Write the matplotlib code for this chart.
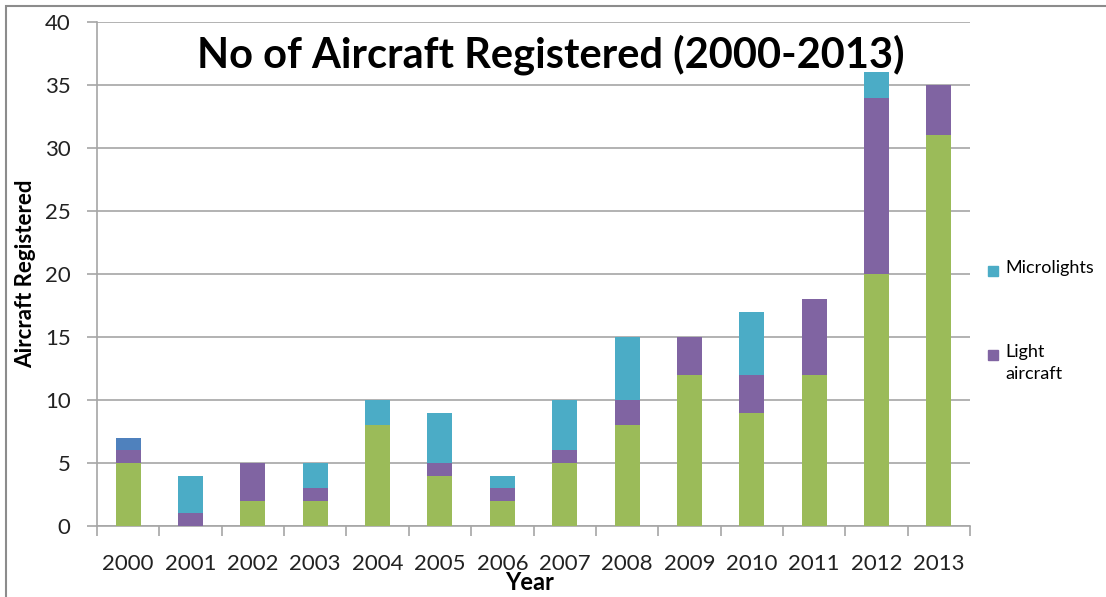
import matplotlib
matplotlib.use("Agg")
import matplotlib.pyplot as plt
from matplotlib.patches import Rectangle
import numpy as np

years = ['2000', '2001', '2002', '2003', '2004', '2005', '2006',
         '2007', '2008', '2009', '2010', '2011', '2012', '2013']
other = [5, 0, 2, 2, 8, 4, 2, 5, 8, 12, 9, 12, 20, 31]
light = [1, 1, 3, 1, 0, 1, 1, 1, 2, 3, 3, 6, 14, 4]
micro = [0, 3, 0, 2, 2, 4, 1, 4, 5, 0, 5, 0, 2, 0]
extra = [1, 0, 0, 0, 0, 0, 0, 0, 0, 0, 0, 0, 0, 0]

c_green = '#9BBB59'
c_purple = '#8064A2'
c_cyan = '#4BACC6'
c_blue = '#4F81BD'
c_grid = '#A6A6A6'

plt.rcParams['font.family'] = ['Lato', 'DejaVu Sans']

W, H = 1106, 597
fig = plt.figure(figsize=(W / 100, H / 100), dpi=100)
ax = fig.add_axes([97 / W, 1 - 526 / H, 873 / W, 504 / H])

x = np.arange(len(years))
w = 0.4
b1 = np.array(other)
b2 = b1 + np.array(light)
b3 = b2 + np.array(micro)
ax.bar(x, other, w, color=c_green, zorder=3)
ax.bar(x, light, w, bottom=b1, color=c_purple, zorder=3)
ax.bar(x, micro, w, bottom=b2, color=c_cyan, zorder=3)
ax.bar(x, extra, w, bottom=b3, color=c_blue, zorder=3)

ax.set_xlim(-0.5, len(years) - 0.5)
ax.set_ylim(0, 40)
ax.set_yticks(range(0, 41, 5))
ax.yaxis.grid(True, color=c_grid, linewidth=1.2, zorder=0)
ax.tick_params(axis='y', length=7, width=1.2, color=c_grid, pad=12,
               labelsize=16, labelcolor='#222222')

ax.set_xticks(x)
ax.set_xticklabels(years)
ax.set_xticks(np.arange(-0.5, len(years)), minor=True)
ax.tick_params(axis='x', which='major', length=0, pad=20,
               labelsize=16, labelcolor='#222222')
ax.tick_params(axis='x', which='minor', length=7, width=1.2, color=c_grid)

for s in ['top', 'right']:
    ax.spines[s].set_visible(False)
for s in ['left', 'bottom']:
    ax.spines[s].set_color(c_grid)
    ax.spines[s].set_linewidth(1.2)

ax.set_ylabel('Aircraft Registered', fontsize=16, fontweight='bold', labelpad=6)
fig.text(530 / W, 1 - 583 / H, 'Year', fontsize=17, fontweight='bold',
         ha='center', va='center')

ax.text(0.52, 1 - 33 / 504, 'No of Aircraft Registered (2000-2013)',
        transform=ax.transAxes, fontsize=30, fontweight='bold',
        ha='center', va='center')

# legend, drawn by hand so the square sits beside the first line
legend_items = [(c_cyan, 'Microlights', 271), (c_purple, 'Light\naircraft', 355)]
for col, label, py in legend_items:
    fig.patches.append(Rectangle((988 / W, 1 - (py + 5) / H), 10 / W, 10 / H,
                                 transform=fig.transFigure, color=col))
    fig.text(1005 / W, 1 - (py - 11) / H, label, fontsize=13, ha='left',
             va='top', linespacing=1.45)

fig.patches.append(Rectangle((6 / W, -0.1), 1.2, 1.1 - 6 / H,
                             transform=fig.transFigure, fill=False,
                             edgecolor='#8C8C8C', linewidth=1.5))

fig.savefig('out.png', dpi=100)
